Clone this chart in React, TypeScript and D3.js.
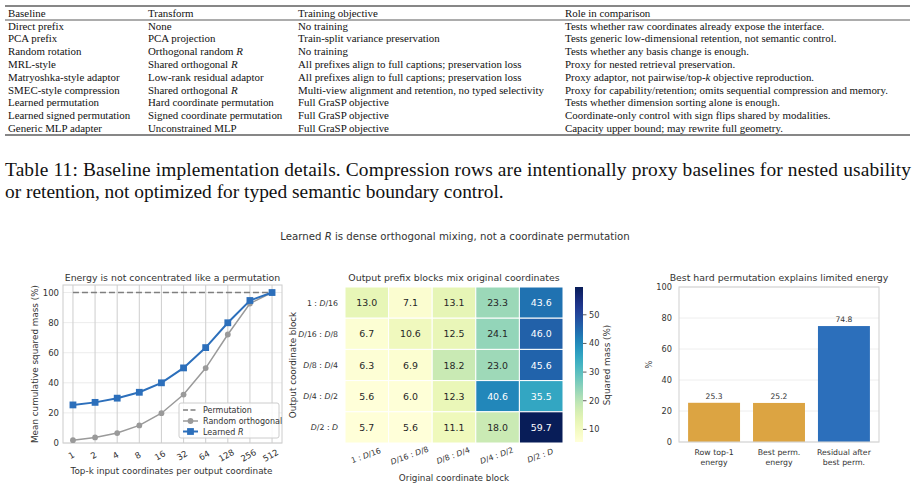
import * as d3 from "d3";
import React from "react";

// ---- table data ----
const baselines = [
  "Direct prefix",
  "PCA prefix",
  "Random rotation",
  "MRL-style",
  "Matryoshka-style adaptor",
  "SMEC-style compression",
  "Learned permutation",
  "Learned signed permutation",
  "Generic MLP adapter",
];
const transforms = [
  "None",
  "PCA projection",
  "Orthogonal random $R$",
  "Shared orthogonal $R$",
  "Low-rank residual adaptor",
  "Shared orthogonal $R$",
  "Hard coordinate permutation",
  "Signed coordinate permutation",
  "Unconstrained MLP",
];
const objectives = [
  "No training",
  "Train-split variance preservation",
  "No training",
  "All prefixes align to full captions; preservation loss",
  "All prefixes align to full captions; preservation loss",
  "Multi-view alignment and retention, no typed selectivity",
  "Full GraSP objective",
  "Full GraSP objective",
  "Full GraSP objective",
];
const roles = [
  "Tests whether raw coordinates already expose the interface.",
  "Tests generic low-dimensional retention, not semantic control.",
  "Tests whether any basis change is enough.",
  "Proxy for nested retrieval preservation.",
  "Proxy adaptor, not pairwise/top-$k$ objective reproduction.",
  "Proxy for capability/retention; omits sequential compression and memory.",
  "Tests whether dimension sorting alone is enough.",
  "Coordinate-only control with sign flips shared by modalities.",
  "Capacity upper bound; may rewrite full geometry.",
];
const headers = ["Baseline", "Transform", "Training objective", "Role in comparison"];

// ---- panel 1: cumulative energy ----
const topK = ["1", "2", "4", "8", "16", "32", "64", "128", "256", "512"];
const permutation = [100, 100, 100, 100, 100, 100, 100, 100, 100, 100];
const randomOrthogonal = [1.9, 3.7, 6.6, 11.7, 19.8, 32.2, 49.8, 72.1, 92.7, 100];
const learnedR = [25.3, 27.0, 29.8, 33.7, 40.0, 49.9, 63.4, 79.9, 94.7, 100];
const energyTicks = [0, 20, 40, 60, 80, 100];

// ---- panel 2: block mixing heatmap ----
const blocks = ["1:D/16", "D/16:D/8", "D/8:D/4", "D/4:D/2", "D/2:D"];
const blockMass = [
  [13.0, 7.1, 13.1, 23.3, 43.6],
  [6.7, 10.6, 12.5, 24.1, 46.0],
  [6.3, 6.9, 18.2, 23.0, 45.6],
  [5.6, 6.0, 12.3, 40.6, 35.5],
  [5.7, 5.6, 11.1, 18.0, 59.7],
];
const colorbarTicks = [10, 20, 30, 40, 50];

// ---- panel 3: best permutation ----
const energyBars = ["Row top-1\nenergy", "Best perm.\nenergy", "Residual after\nbest perm."];
const energyValues = [25.3, 25.2, 74.8];
const energyColors = ["#dca442", "#dca442", "#2c6fbb"];
const pctTicks = [0, 20, 40, 60, 80, 100];

const SANS = "DejaVu Sans, sans-serif";
const SERIF = "Liberation Serif, Times New Roman, serif";
const INK = "#333333";
const BLUE = "#2c6fbb";
const GRAY = "#9a9a9a";

// "$x$" segments are drawn in italics
function Rich({ s }: { s: string }) {
  const parts = s.split("$");
  return (
    <>
      {parts.map((p, i) => (
        <tspan key={i} fontStyle={i % 2 ? "italic" : "normal"}>
          {p}
        </tspan>
      ))}
    </>
  );
}

// block label like "D/16:D/8" with italic D and spaced colon
function BlockLabel({ s }: { s: string }) {
  const txt = s.replace(":", " : ");
  const parts = txt.split(/(D)/);
  return (
    <>
      {parts.map((p, i) => (
        <tspan key={i} fontStyle={p === "D" ? "italic" : "normal"}>
          {p}
        </tspan>
      ))}
    </>
  );
}

function Table() {
  const colX = [8, 148, 298, 565];
  const rowY = (i: number) => 29.5 + i * 12.8;
  return (
    <g fontFamily={SERIF} fontSize={10.9} fill="#111">
      <line x1={5} x2={910} y1={6} y2={6} stroke="#111" strokeWidth={1.2} />
      {headers.map((h, j) => (
        <text key={h} x={colX[j]} y={16.5}>
          {h}
        </text>
      ))}
      <line x1={5} x2={910} y1={20} y2={20} stroke="#111" strokeWidth={0.7} />
      {baselines.map((b, i) => (
        <g key={b}>
          <text x={colX[0]} y={rowY(i)}>{b}</text>
          <text x={colX[1]} y={rowY(i)}>
            <Rich s={transforms[i]} />
          </text>
          <text x={colX[2]} y={rowY(i)}>{objectives[i]}</text>
          <text x={colX[3]} y={rowY(i)}>
            <Rich s={roles[i]} />
          </text>
        </g>
      ))}
      <line x1={5} x2={910} y1={135} y2={135} stroke="#111" strokeWidth={1.2} />
      <text x={5} y={176} fontSize={19.4} textLength={906} lengthAdjust="spacing">
        Table 11: Baseline implementation details. Compression rows are intentionally proxy baselines for nested usability
      </text>
      <text x={5} y={198} fontSize={19.4}>
        or retention, not optimized for typed semantic boundary control.
      </text>
    </g>
  );
}

function EnergyPanel() {
  const box = { x0: 63, x1: 282, y0: 285, y1: 443 };
  const x = d3.scaleLinear().domain([-0.45, 9.45]).range([box.x0, box.x1]);
  const y = d3.scaleLinear().domain([0, 105]).range([box.y1, box.y0]);
  const line = d3
    .line<number>()
    .x((_, i) => x(i))
    .y((d) => y(d));
  return (
    <g fontFamily={SANS} fill={INK}>
      {energyTicks.map((t) => (
        <line key={t} x1={box.x0} x2={box.x1} y1={y(t)} y2={y(t)} stroke="#ececec" />
      ))}
      {topK.map((k, i) => (
        <line key={k} x1={x(i)} x2={x(i)} y1={box.y0} y2={box.y1} stroke="#d2d2d2" strokeWidth={1.1} />
      ))}
      <rect x={box.x0} y={box.y0} width={box.x1 - box.x0} height={box.y1 - box.y0} fill="none" stroke="#cccccc" />
      <path d={line(permutation)!} fill="none" stroke="#7f7f7f" strokeWidth={1.6} strokeDasharray="6,3" />
      <path d={line(randomOrthogonal)!} fill="none" stroke={GRAY} strokeWidth={1.5} />
      {randomOrthogonal.map((v, i) => (
        <circle key={i} cx={x(i)} cy={y(v)} r={2.9} fill={GRAY} />
      ))}
      <path d={line(learnedR)!} fill="none" stroke={BLUE} strokeWidth={2} />
      {learnedR.map((v, i) => (
        <rect key={i} x={x(i) - 3.4} y={y(v) - 3.4} width={6.8} height={6.8} fill={BLUE} />
      ))}
      {energyTicks.map((t) => (
        <text key={t} x={box.x0 - 4} y={y(t) + 3} fontSize={8.5} textAnchor="end">
          {t}
        </text>
      ))}
      {topK.map((k, i) => (
        <text key={k} x={0} y={0} fontSize={8.5} textAnchor="middle" transform={`translate(${x(i)},${458}) rotate(-30)`}>
          {k}
        </text>
      ))}
      <text x={(box.x0 + box.x1) / 2} y={281} fontSize={9.4} textAnchor="middle">
        Energy is not concentrated like a permutation
      </text>
      <text x={(box.x0 + box.x1) / 2 - 1} y={474} fontSize={8.8} textAnchor="middle">
        Top-k input coordinates per output coordinate
      </text>
      <text transform={`translate(38,${(box.y0 + box.y1) / 2}) rotate(-90)`} fontSize={8.8} textAnchor="middle">
        Mean cumulative squared mass (%)
      </text>
      {/* legend */}
      <g>
        <rect x={179} y={403} width={100} height={35} rx={2} fill="white" fillOpacity={0.85} stroke="#cccccc" />
        <line x1={183} x2={198} y1={410} y2={410} stroke="#7f7f7f" strokeWidth={1.6} strokeDasharray="5,2.5" />
        <line x1={183} x2={198} y1={421} y2={421} stroke={GRAY} strokeWidth={1.5} />
        <circle cx={190.5} cy={421} r={2.9} fill={GRAY} />
        <line x1={183} x2={198} y1={431.5} y2={431.5} stroke={BLUE} strokeWidth={2} />
        <rect x={187.1} y={428.1} width={6.8} height={6.8} fill={BLUE} />
        <text x={203} y={413} fontSize={8}>Permutation</text>
        <text x={203} y={424} fontSize={8}>Random orthogonal</text>
        <text x={203} y={434.5} fontSize={8}>
          Learned <tspan fontStyle="italic">R</tspan>
        </text>
      </g>
    </g>
  );
}

function HeatmapPanel() {
  const box = { x0: 345, x1: 563, y0: 287, y1: 443 };
  const x = d3.scaleBand<string>().domain(blocks).range([box.x0, box.x1]);
  const y = d3.scaleBand<string>().domain(blocks).range([box.y0, box.y1]);
  const flat = blockMass.flat();
  const lo = d3.min(flat)!;
  const hi = d3.max(flat)!;
  const color = d3.scaleSequential(d3.interpolateYlGnBu).domain([lo, hi]);
  const cb = { x0: 575, x1: 583 };
  const cy = d3.scaleLinear().domain([lo, hi]).range([box.y1 - 1, box.y0]);
  const stops = d3.range(0, 1.0001, 0.05);
  const lum = (c: string) => {
    const r = d3.rgb(c);
    const f = (v: number) => {
      const s = v / 255;
      return s <= 0.03928 ? s / 12.92 : Math.pow((s + 0.055) / 1.055, 2.4);
    };
    return 0.2126 * f(r.r) + 0.7152 * f(r.g) + 0.0722 * f(r.b);
  };
  return (
    <g fontFamily={SANS} fill={INK}>
      <defs>
        <linearGradient id="ylgnbu" x1="0" y1="1" x2="0" y2="0">
          {stops.map((s) => (
            <stop key={s} offset={s} stopColor={d3.interpolateYlGnBu(s)} />
          ))}
        </linearGradient>
      </defs>
      {blockMass.map((row, i) =>
        row.map((v, j) => {
          const c = color(v);
          return (
            <g key={`${i}-${j}`}>
              <rect x={x(blocks[j])!} y={y(blocks[i])!} width={x.bandwidth()} height={y.bandwidth()} fill={c} stroke="white" strokeWidth={1} />
              <text
                x={x(blocks[j])! + x.bandwidth() / 2}
                y={y(blocks[i])! + y.bandwidth() / 2 + 3.5}
                fontSize={9.4}
                textAnchor="middle"
                fill={lum(c) > 0.408 ? "#262626" : "white"}
              >
                {v.toFixed(1)}
              </text>
            </g>
          );
        })
      )}
      {blocks.map((b) => (
        <text key={b} x={box.x0 - 7} y={y(b)! + y.bandwidth() / 2 + 3} fontSize={7.8} textAnchor="end">
          <BlockLabel s={b} />
        </text>
      ))}
      {blocks.map((b) => (
        <text
          key={b}
          fontSize={7.8}
          textAnchor="middle"
          transform={`translate(${x(b)! + x.bandwidth() / 2},${458}) rotate(-20)`}
        >
          <BlockLabel s={b} />
        </text>
      ))}
      <text x={(box.x0 + box.x1) / 2} y={281} fontSize={9.4} textAnchor="middle">
        Output prefix blocks mix original coordinates
      </text>
      <text x={(box.x0 + box.x1) / 2} y={481} fontSize={8.8} textAnchor="middle">
        Original coordinate block
      </text>
      <text transform={`translate(296,${(box.y0 + box.y1) / 2}) rotate(-90)`} fontSize={8.8} textAnchor="middle">
        Output coordinate block
      </text>
      {/* colorbar */}
      <rect x={cb.x0} y={box.y0} width={cb.x1 - cb.x0} height={box.y1 - 1 - box.y0} fill="url(#ylgnbu)" />
      {colorbarTicks.map((t) => (
        <g key={t}>
          <line x1={cb.x1} x2={cb.x1 + 3.5} y1={cy(t)} y2={cy(t)} stroke={INK} strokeWidth={0.8} />
          <text x={cb.x1 + 6} y={cy(t) + 3} fontSize={8.2}>
            {t}
          </text>
        </g>
      ))}
      <text transform={`translate(610,${(box.y0 + box.y1) / 2}) rotate(-90)`} fontSize={8.8} textAnchor="middle">
        Squared mass (%)
      </text>
    </g>
  );
}

function BarPanel() {
  const box = { x0: 679, x1: 879, y0: 287, y1: 442 };
  const x = d3.scaleLinear().domain([-0.54, 2.54]).range([box.x0, box.x1]);
  const y = d3.scaleLinear().domain([0, 100]).range([box.y1, box.y0]);
  const bw = x(0.8) - x(0);
  return (
    <g fontFamily={SANS} fill={INK}>
      {pctTicks.map((t) => (
        <line key={t} x1={box.x0} x2={box.x1} y1={y(t)} y2={y(t)} stroke="#eeeeee" />
      ))}
      {energyValues.map((v, i) => (
        <g key={i}>
          <rect x={x(i) - bw / 2} y={y(v)} width={bw} height={y(0) - y(v)} fill={energyColors[i]} />
          <text x={x(i)} y={y(v) - 4} fontSize={7.6} textAnchor="middle">
            {v.toFixed(1)}
          </text>
        </g>
      ))}
      <rect x={box.x0} y={box.y0} width={box.x1 - box.x0} height={box.y1 - box.y0} fill="none" stroke="#d4d4d4" strokeWidth={1.1} />
      {pctTicks.map((t) => (
        <text key={t} x={box.x0 - 7} y={y(t) + 3} fontSize={8.2} textAnchor="end">
          {t}
        </text>
      ))}
      {energyBars.map((lab, i) =>
        lab.split("\n").map((ln, j) => (
          <text key={`${i}-${j}`} x={x(i)} y={455 + j * 9.5} fontSize={7.8} textAnchor="middle">
            {ln}
          </text>
        ))
      )}
      <text x={(box.x0 + box.x1) / 2} y={281} fontSize={9.4} textAnchor="middle">
        Best hard permutation explains limited energy
      </text>
      <text transform={`translate(652,${(box.y0 + box.y1) / 2}) rotate(-90)`} fontSize={8.2} textAnchor="middle">
        %
      </text>
    </g>
  );
}

export default function App() {
  const width = 921;
  const height = 489;
  return (
    <svg
      width={width}
      height={height}
      style={{ position: "absolute", left: 0, top: 0, background: "white" }}
    >
      <rect width={width} height={height} fill="white" />
      <Table />
      <text x={455} y={240} fontFamily={SANS} fontSize={10.2} textAnchor="middle" fill={INK}>
        Learned <tspan fontStyle="italic">R</tspan> is dense orthogonal mixing, not a coordinate permutation
      </text>
      <EnergyPanel />
      <HeatmapPanel />
      <BarPanel />
    </svg>
  );
}
